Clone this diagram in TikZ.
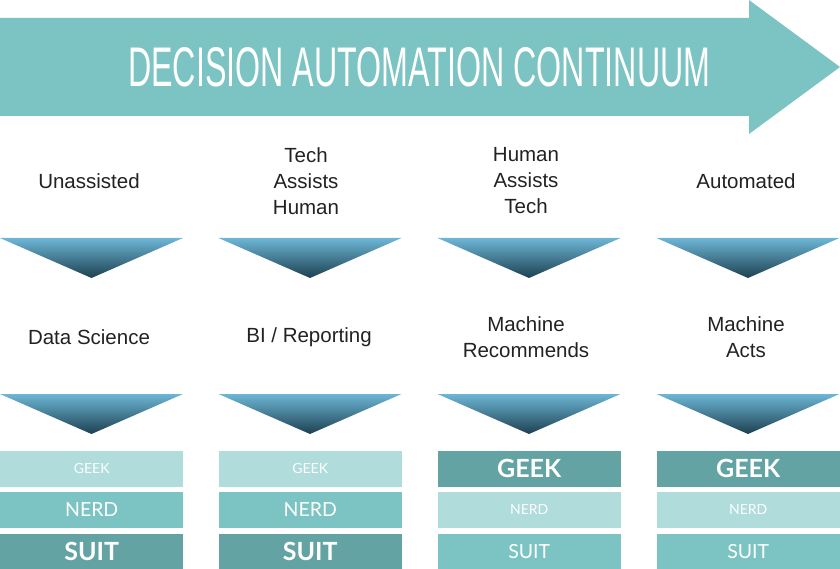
\documentclass[tikz,border=0pt]{standalone}
\usepackage{fontspec}
\setmainfont{Lato}
\newfontfamily\titlefont{Liberation Sans}
\newfontfamily\labelfont{Liberation Sans}
\definecolor{arrowc}{HTML}{7CC4C3}
\definecolor{lightc}{HTML}{B0DCDC}
\definecolor{midc}{HTML}{7CC4C3}
\definecolor{darkc}{HTML}{64A3A3}
\definecolor{tritop}{HTML}{6DB6D6}
\definecolor{trimid}{HTML}{3582A1}
\definecolor{tribot}{HTML}{1D4050}
\definecolor{labelc}{HTML}{222222}
\tikzset{
  lbl/.style={align=center, text=labelc, inner sep=0pt, font=\labelfont\fontsize{20.5}{26}\selectfont},
  cell/.style={minimum width=183pt, minimum height=35.5pt, inner sep=0pt, text=white, anchor=north west},
  lightbox/.style={cell, fill=lightc, font=\fontsize{14}{16}\selectfont},
  midbox/.style={cell, fill=midc, font=\fontsize{19.5}{22}\selectfont},
  darkbox/.style={cell, fill=darkc, font=\bfseries\fontsize{25}{28}\selectfont},
  tri/.style={top color=tritop, middle color=trimid, bottom color=tribot}
}
\begin{document}
\begin{tikzpicture}[x=1pt,y=-1pt]
\useasboundingbox (0,0) rectangle (840,569);
% big arrow
\fill[arrowc] (0,18) -- (749,18) -- (749,0) -- (840,67) -- (749,134) -- (749,116) -- (0,116) -- cycle;
\node[anchor=base west, inner sep=0pt, text=white] (title) at (128,87)
  {\resizebox{582pt}{39pt}{\titlefont DECISION AUTOMATION CONTINUUM}};
% columns
\foreach \x [count=\i] in {0,218.5,437.5,656.5} {
  \shade[tri] (\x,238) -- (\x+183,238) -- (\x+91.5,278) -- cycle;
  \shade[tri] (\x,394) -- (\x+183,394) -- (\x+91.5,434) -- cycle;
}
% labels row 1
\node[lbl] (u1) at (89,181) {Unassisted};
\node[lbl] (u2) at (306,181) {Tech\\Assists\\Human};
\node[lbl] (u3) at (526,181) {Human\\Assists\\Tech};
\node[lbl] (u4) at (746,181) {Automated};
% labels row 2
\node[lbl] (d1) at (89,337) {Data Science};
\node[lbl] (d2) at (309,337) {BI / Reporting};
\node[lbl] (d3) at (526,337) {Machine\\Recommends};
\node[lbl] (d4) at (746,337) {Machine\\Acts};
% boxes
\node[lightbox] (g1) at (0,451) {GEEK};
\node[midbox]   (n1) at (0,492) {NERD};
\node[darkbox]  (s1) at (0,533.5) {SUIT};
\node[lightbox] (g2) at (218.5,451) {GEEK};
\node[midbox]   (n2) at (218.5,492) {NERD};
\node[darkbox]  (s2) at (218.5,533.5) {SUIT};
\node[darkbox]  (g3) at (437.5,451) {GEEK};
\node[lightbox] (n3) at (437.5,492) {NERD};
\node[midbox]   (s3) at (437.5,533.5) {SUIT};
\node[darkbox]  (g4) at (656.5,451) {GEEK};
\node[lightbox] (n4) at (656.5,492) {NERD};
\node[midbox]   (s4) at (656.5,533.5) {SUIT};
\end{tikzpicture}
\end{document}
